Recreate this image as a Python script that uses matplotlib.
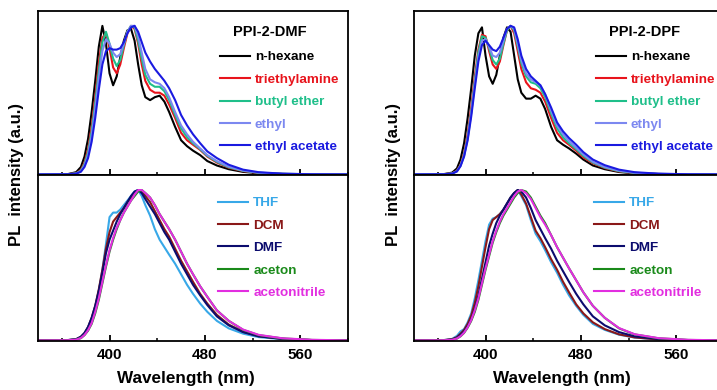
import matplotlib.pyplot as plt

plt.rcParams["font.family"] = ["Liberation Sans", "DejaVu Sans"]
plt.rcParams["font.weight"] = "bold"

# wavelength grid (nm) shared by all spectra
wl = [340, 365, 372, 376, 379, 382, 385, 388, 391, 394, 397, 400, 403, 406, 409,
      412, 415, 418, 421, 424, 427, 430, 434, 438, 442, 446, 450, 455, 460, 465,
      470, 476, 482, 490, 500, 512, 525, 545, 570, 600]

# PPI-2-DMF, low-polarity solvents (normalised PL)
dmf_hexane = [0, 0.002, 0.015, 0.05, 0.12, 0.24, 0.42, 0.63, 0.86, 1.0, 0.88, 0.68, 0.60, 0.66, 0.79,
              0.90, 0.97, 0.98, 0.90, 0.74, 0.60, 0.52, 0.50, 0.52, 0.53, 0.49, 0.42, 0.32, 0.23, 0.19,
              0.16, 0.13, 0.09, 0.06, 0.035, 0.017, 0.008, 0.003, 0, 0]
dmf_tea = [0, 0.001, 0.008, 0.03, 0.08, 0.17, 0.32, 0.52, 0.75, 0.92, 0.95, 0.85, 0.72, 0.68, 0.74,
           0.85, 0.95, 1.0, 0.98, 0.88, 0.74, 0.63, 0.57, 0.55, 0.55, 0.53, 0.47, 0.38, 0.28, 0.23,
           0.20, 0.165, 0.12, 0.08, 0.045, 0.022, 0.01, 0.003, 0.001, 0]
dmf_butyl = [0, 0.001, 0.007, 0.025, 0.07, 0.15, 0.29, 0.48, 0.70, 0.89, 0.96, 0.88, 0.78, 0.73, 0.77,
             0.87, 0.96, 1.0, 0.99, 0.90, 0.78, 0.67, 0.61, 0.59, 0.59, 0.56, 0.50, 0.40, 0.31, 0.25,
             0.21, 0.17, 0.125, 0.085, 0.048, 0.024, 0.011, 0.004, 0.001, 0]
dmf_ethyl = [0, 0.001, 0.006, 0.022, 0.06, 0.13, 0.26, 0.44, 0.65, 0.83, 0.91, 0.88, 0.82, 0.79, 0.81,
             0.88, 0.96, 1.0, 1.0, 0.93, 0.82, 0.71, 0.64, 0.62, 0.61, 0.58, 0.52, 0.42, 0.33, 0.27,
             0.22, 0.175, 0.13, 0.09, 0.052, 0.026, 0.012, 0.004, 0.001, 0]
dmf_etac = [0, 0.001, 0.005, 0.018, 0.05, 0.11, 0.22, 0.38, 0.57, 0.74, 0.83, 0.85, 0.84, 0.84, 0.85,
            0.89, 0.95, 0.99, 1.0, 0.96, 0.89, 0.82, 0.76, 0.71, 0.67, 0.63, 0.58, 0.50, 0.40, 0.33,
            0.27, 0.21, 0.155, 0.11, 0.065, 0.032, 0.015, 0.005, 0.001, 0]

# PPI-2-DMF, polar solvents
dmf_thf = [0, 0.002, 0.008, 0.02, 0.04, 0.085, 0.14, 0.21, 0.33, 0.47, 0.64, 0.82, 0.85, 0.85, 0.87,
           0.90, 0.93, 0.96, 0.99, 1.0, 0.96, 0.90, 0.83, 0.74, 0.67, 0.62, 0.57, 0.51, 0.44, 0.37,
           0.31, 0.245, 0.19, 0.13, 0.08, 0.045, 0.022, 0.008, 0.002, 0]
dmf_dcm = [0, 0.002, 0.008, 0.024, 0.048, 0.088, 0.15, 0.23, 0.34, 0.47, 0.61, 0.72, 0.79, 0.82, 0.85,
           0.88, 0.92, 0.95, 0.98, 1.0, 0.99, 0.96, 0.92, 0.86, 0.80, 0.74, 0.69, 0.61, 0.53, 0.46,
           0.39, 0.31, 0.245, 0.17, 0.105, 0.058, 0.028, 0.01, 0.002, 0]
dmf_dmf = [0, 0.002, 0.008, 0.025, 0.05, 0.09, 0.15, 0.23, 0.33, 0.45, 0.58, 0.67, 0.73, 0.79, 0.84,
           0.88, 0.92, 0.96, 0.99, 1.0, 0.98, 0.94, 0.89, 0.84, 0.78, 0.72, 0.67, 0.59, 0.51, 0.44,
           0.37, 0.30, 0.235, 0.16, 0.10, 0.055, 0.027, 0.01, 0.002, 0]
dmf_aceton = [0, 0.001, 0.005, 0.015, 0.035, 0.065, 0.11, 0.18, 0.27, 0.38, 0.49, 0.59, 0.67, 0.74, 0.80,
              0.85, 0.89, 0.93, 0.96, 0.99, 1.0, 0.98, 0.95, 0.90, 0.84, 0.79, 0.74, 0.67, 0.59, 0.51,
              0.44, 0.36, 0.29, 0.20, 0.13, 0.07, 0.035, 0.013, 0.003, 0]
dmf_acn = [0, 0.001, 0.005, 0.016, 0.036, 0.068, 0.115, 0.19, 0.28, 0.39, 0.50, 0.60, 0.68, 0.75, 0.80,
           0.85, 0.89, 0.93, 0.97, 1.0, 1.0, 0.98, 0.95, 0.90, 0.84, 0.79, 0.74, 0.67, 0.59, 0.51,
           0.44, 0.36, 0.29, 0.20, 0.13, 0.072, 0.037, 0.014, 0.004, 0]

# PPI-2-DPF, low-polarity solvents
dpf_hexane = [0, 0.002, 0.012, 0.04, 0.10, 0.21, 0.38, 0.58, 0.80, 0.95, 0.99, 0.80, 0.66, 0.61, 0.67,
              0.80, 0.92, 0.99, 0.96, 0.80, 0.64, 0.55, 0.51, 0.51, 0.53, 0.51, 0.44, 0.32, 0.23, 0.20,
              0.175, 0.14, 0.10, 0.06, 0.035, 0.016, 0.007, 0.002, 0, 0]
dpf_tea = [0, 0.001, 0.007, 0.025, 0.065, 0.14, 0.27, 0.45, 0.66, 0.84, 0.94, 0.93, 0.83, 0.74, 0.71,
           0.76, 0.87, 0.97, 1.0, 0.95, 0.83, 0.71, 0.62, 0.58, 0.57, 0.55, 0.49, 0.38, 0.28, 0.23,
           0.20, 0.16, 0.115, 0.075, 0.043, 0.02, 0.009, 0.003, 0, 0]
dpf_butyl = [0, 0.001, 0.006, 0.022, 0.06, 0.13, 0.25, 0.42, 0.63, 0.82, 0.93, 0.92, 0.85, 0.77, 0.74,
             0.78, 0.88, 0.97, 1.0, 0.97, 0.86, 0.75, 0.66, 0.62, 0.61, 0.58, 0.52, 0.41, 0.31, 0.25,
             0.21, 0.17, 0.125, 0.08, 0.046, 0.022, 0.01, 0.003, 0.001, 0]
dpf_ethyl = [0, 0.001, 0.006, 0.021, 0.058, 0.125, 0.24, 0.41, 0.61, 0.79, 0.90, 0.91, 0.86, 0.80, 0.79,
             0.82, 0.90, 0.98, 1.0, 0.98, 0.88, 0.77, 0.68, 0.64, 0.62, 0.60, 0.54, 0.43, 0.33, 0.27,
             0.225, 0.18, 0.135, 0.085, 0.05, 0.025, 0.011, 0.004, 0.001, 0]
dpf_etac = [0, 0.001, 0.005, 0.02, 0.055, 0.12, 0.23, 0.39, 0.58, 0.76, 0.87, 0.90, 0.87, 0.84, 0.83,
            0.86, 0.92, 0.98, 1.0, 0.99, 0.91, 0.80, 0.71, 0.66, 0.63, 0.60, 0.54, 0.45, 0.35, 0.29,
            0.245, 0.20, 0.15, 0.10, 0.062, 0.032, 0.015, 0.005, 0.001, 0]

# PPI-2-DPF, polar solvents
dpf_thf = [0, 0.002, 0.01, 0.03, 0.06, 0.075, 0.12, 0.18, 0.28, 0.40, 0.53, 0.66, 0.77, 0.81, 0.82,
           0.84, 0.87, 0.91, 0.95, 0.98, 1.0, 0.96, 0.90, 0.80, 0.71, 0.66, 0.60, 0.52, 0.45, 0.37,
           0.30, 0.23, 0.17, 0.11, 0.07, 0.038, 0.019, 0.006, 0.001, 0]
dpf_dcm = [0, 0.002, 0.008, 0.022, 0.045, 0.07, 0.11, 0.165, 0.25, 0.36, 0.49, 0.62, 0.74, 0.80, 0.82,
           0.84, 0.87, 0.91, 0.95, 0.98, 1.0, 0.97, 0.91, 0.82, 0.73, 0.68, 0.62, 0.54, 0.47, 0.39,
           0.32, 0.24, 0.18, 0.12, 0.075, 0.04, 0.02, 0.006, 0.001, 0]
dpf_dmf = [0, 0.001, 0.006, 0.018, 0.038, 0.06, 0.095, 0.14, 0.21, 0.30, 0.41, 0.52, 0.63, 0.71, 0.78,
           0.83, 0.87, 0.91, 0.95, 0.98, 1.0, 0.99, 0.95, 0.88, 0.80, 0.74, 0.68, 0.61, 0.53, 0.46,
           0.39, 0.31, 0.24, 0.16, 0.10, 0.055, 0.027, 0.009, 0.002, 0]
dpf_aceton = [0, 0.001, 0.004, 0.012, 0.027, 0.05, 0.085, 0.13, 0.19, 0.27, 0.37, 0.47, 0.56, 0.65, 0.72,
              0.78, 0.83, 0.87, 0.91, 0.95, 0.98, 1.0, 0.99, 0.95, 0.89, 0.83, 0.78, 0.70, 0.62, 0.55,
              0.48, 0.40, 0.32, 0.23, 0.15, 0.08, 0.04, 0.014, 0.003, 0]
dpf_acn = [0, 0.001, 0.004, 0.013, 0.028, 0.052, 0.088, 0.135, 0.2, 0.28, 0.38, 0.48, 0.57, 0.66, 0.73,
           0.79, 0.84, 0.88, 0.92, 0.96, 0.99, 1.0, 0.98, 0.94, 0.88, 0.82, 0.77, 0.70, 0.62, 0.55,
           0.48, 0.40, 0.32, 0.23, 0.15, 0.082, 0.041, 0.015, 0.004, 0]

top_labels = ["n-hexane", "triethylamine", "butyl ether", "ethyl", "ethyl acetate"]
top_colors = ["#000000", "#e8141c", "#1fbf8a", "#7c88f0", "#1a1ae0"]
bot_labels = ["THF", "DCM", "DMF", "aceton", "acetonitrile"]
bot_colors = ["#38a8e8", "#8a1818", "#0c0c6e", "#1a8a1a", "#e22ee0"]

panels = [
    ("PPI-2-DMF", [dmf_hexane, dmf_tea, dmf_butyl, dmf_ethyl, dmf_etac],
     [dmf_thf, dmf_dcm, dmf_dmf, dmf_aceton, dmf_acn], 38),
    ("PPI-2-DPF", [dpf_hexane, dpf_tea, dpf_butyl, dpf_ethyl, dpf_etac],
     [dpf_thf, dpf_dcm, dpf_dmf, dpf_aceton, dpf_acn], 414),
]

W, H = 717, 390
fig = plt.figure(figsize=(W / 100, H / 100), dpi=100)


def style(ax, bottom):
    ax.set_xlim(340, 600)
    ax.set_ylim(-0.004, 1.1)
    ax.set_yticks([])
    ax.set_xticks([400, 480, 560])
    ax.set_xticks([360, 440, 520, 600], minor=True)
    for s in ax.spines.values():
        s.set_linewidth(1.3)
    if bottom:
        ax.tick_params(axis="x", which="major", direction="in", length=4, width=1.3,
                       labelsize=11, pad=5)
        ax.tick_params(axis="x", which="minor", direction="in", length=2.5, width=1.1)
    else:
        ax.tick_params(axis="x", which="major", direction="inout", length=8, width=1.3,
                       labelbottom=False)
        ax.tick_params(axis="x", which="minor", direction="inout", length=5, width=1.1)


for title, tops, bots, left_px in panels:
    l = left_px / W
    w = 310 / W
    ax_t = fig.add_axes([l, 1 - 175 / H, w, 164 / H])
    ax_b = fig.add_axes([l, 1 - 341 / H, w, 166 / H])

    for ys, lab, c in zip(tops, top_labels, top_colors):
        ax_t.plot(wl, ys, color=c, lw=1.5, label=lab)
    for ys, lab, c in zip(bots, bot_labels, bot_colors):
        ax_b.plot(wl, ys, color=c, lw=1.5, label=lab)

    style(ax_t, False)
    style(ax_b, True)

    legend_kw = dict(loc="upper left", frameon=False, fontsize=9.7, handlelength=2.2,
                     handletextpad=0.4, labelspacing=0.74, borderpad=0, borderaxespad=0,
                     labelcolor="linecolor")
    ax_t.legend(bbox_to_anchor=(0.587, 0.756), **legend_kw)
    ax_b.legend(bbox_to_anchor=(0.581, 0.868), **legend_kw)
    ax_t.text(0.629, 0.872, title, transform=ax_t.transAxes, fontsize=10.5,
              ha="left", va="center")

    fig.text((left_px - 21) / W, 1 - 175 / H, "PL  intensity (a.u.)", rotation=90,
             ha="center", va="center", fontsize=12)
    fig.text((left_px + 148) / W, 1 - 378 / H, "Wavelength (nm)", ha="center",
             va="center", fontsize=12.3)

fig.savefig("out.png", dpi=100)
